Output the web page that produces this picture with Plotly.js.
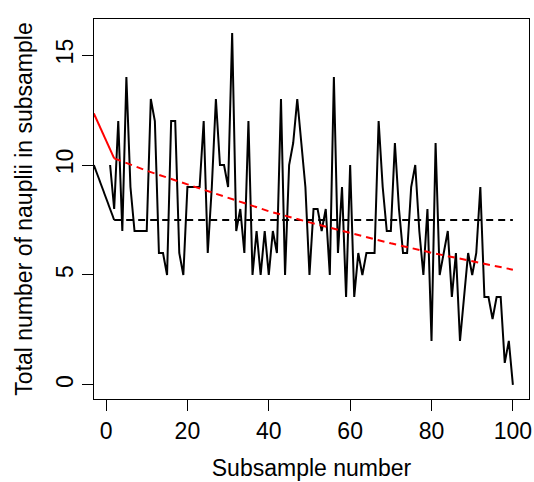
<!DOCTYPE html>
<html>
<head>
<meta charset="utf-8">
<script src="https://cdn.plot.ly/plotly-3.0.1.min.js"></script>
<style>html,body{margin:0;padding:0;background:#fff;}#chart{width:534px;height:482px;}</style>
</head>
<body>
<div id="chart"></div>
<script>
// Subsample index (x) and total nauplii counts (y)
const subsample = [1,2,3,4,5,6,7,8,9,10,11,12,13,14,15,16,17,18,19,20,
  21,22,23,24,25,26,27,28,29,30,31,32,33,34,35,36,37,38,39,40,
  41,42,43,44,45,46,47,48,49,50,51,52,53,54,55,56,57,58,59,60,
  61,62,63,64,65,66,67,68,69,70,71,72,73,74,75,76,77,78,79,80,
  81,82,83,84,85,86,87,88,89,90,91,92,93,94,95,96,97,98,99,100];
const nauplii = [10,8,12,7,14,9,7,7,7,7, 13,12,6,6,5,12,12,6,5,9,
  9,9,9,12,6,9,13,10,10,9, 16,7,8,6,12,5,7,5,7,5,
  7,6,13,5,10,11,13,11,9,5, 8,8,7,8,5,14,6,9,4,10,
  4,6,5,6,6,6,12,9,7,7, 11,8,6,6,9,10,7,5,8,2,
  11,5,6,7,4,6,2,4,6,5, 6,9,4,4,3,4,4,1,2,0];

// Mean line (black dashed) and its solid lead-in
const meanX = [2, 100];
const meanY = [7.5, 7.5];
const meanLeadX = [-3, 2];
const meanLeadY = [10, 7.5];

const trendX = [2, 10, 20, 30, 40, 50, 60, 70, 80, 90, 100];
const trendY = [10.3, 9.74, 9.12, 8.5, 7.9, 7.39, 6.9, 6.44, 6.01, 5.61, 5.24];
const trendLeadX = [-3, 2];
const trendLeadY = [12.35, 10.3];

const xTicks = [0, 20, 40, 60, 80, 100];
const yTicks = [0, 5, 10, 15];

const FONT = 'Liberation Sans, Arial, Helvetica, sans-serif';

const traces = [
  {x: subsample, y: nauplii, type: 'scatter', mode: 'lines',
   line: {color: '#000000', width: 2}, hoverinfo: 'skip'},
  {x: meanLeadX, y: meanLeadY, type: 'scatter', mode: 'lines',
   line: {color: '#000000', width: 2}, hoverinfo: 'skip'},
  {x: meanX, y: meanY, type: 'scatter', mode: 'lines',
   line: {color: '#000000', width: 2, dash: '7px,5px'}, hoverinfo: 'skip'},
  {x: trendLeadX, y: trendLeadY, type: 'scatter', mode: 'lines',
   line: {color: '#FF0000', width: 2}, hoverinfo: 'skip'},
  {x: trendX, y: trendY, type: 'scatter', mode: 'lines',
   line: {color: '#FF0000', width: 2, dash: '7px,5px'}, hoverinfo: 'skip'}
];

const layout = {
  width: 534, height: 482,
  margin: {l: 94, r: 5, t: 19, b: 83, pad: 0},
  paper_bgcolor: '#ffffff', plot_bgcolor: '#ffffff',
  showlegend: false,
  font: {family: FONT, color: '#000000', size: 23},
  xaxis: {
    range: [-2.96, 103.96], tickvals: xTicks, ticktext: xTicks.map(String),
    ticks: 'outside', ticklen: 11, tickwidth: 1, tickcolor: '#000000',
    showline: true, mirror: true, linecolor: '#000000', linewidth: 1,
    showgrid: false, zeroline: false,
    tickfont: {family: FONT, size: 23, color: '#000000'},
    title: {text: 'Subsample number', font: {family: FONT, size: 23, color: '#000000'}, standoff: 17},
    automargin: false
  },
  yaxis: {
    range: [-0.64, 16.64], tickvals: yTicks, ticktext: yTicks.map(String),
    tickangle: -90,
    ticks: 'outside', ticklen: 11, tickwidth: 1, tickcolor: '#000000',
    showline: true, mirror: true, linecolor: '#000000', linewidth: 1,
    showgrid: false, zeroline: false,
    tickfont: {family: FONT, size: 23, color: '#000000'},
    title: {text: 'Total number of nauplii in subsample', font: {family: FONT, size: 23, color: '#000000'}, standoff: 12},
    automargin: false
  }
};

Plotly.newPlot('chart', traces, layout, {displayModeBar: false, staticPlot: true});
</script>
</body>
</html>
